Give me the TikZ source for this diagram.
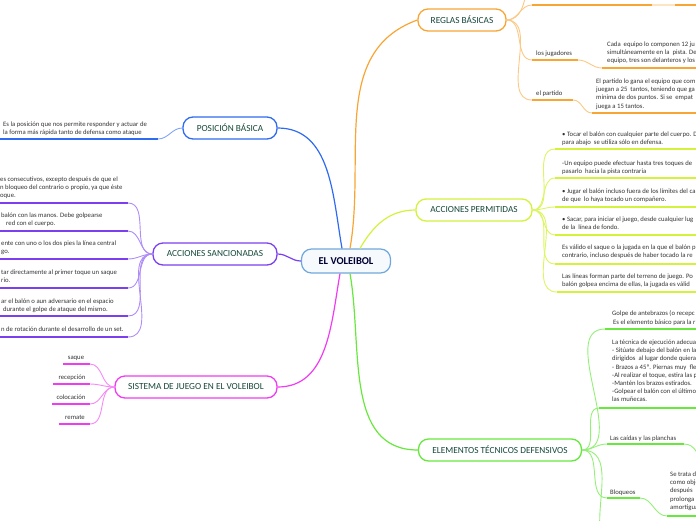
\documentclass[tikz,border=0pt]{standalone}
\usepackage{fontspec}
\setmainfont{Carlito}
\usetikzlibrary{positioning,calc}
\definecolor{rootc}{HTML}{6FA8DC}
\definecolor{posic}{HTML}{2F6BF0}
\definecolor{sanc}{HTML}{7B3FF0}
\definecolor{sist}{HTML}{F03CF0}
\definecolor{regl}{HTML}{F8A534}
\definecolor{perm}{HTML}{D2F23C}
\definecolor{tecn}{HTML}{66E83C}
\definecolor{titc}{HTML}{16483A}
\definecolor{txt}{HTML}{333333}

\begin{document}
\begin{tikzpicture}[x=1pt,y=-1pt,
  root/.style={draw=rootc,fill=rootc!6,rounded corners=10pt,line width=1.2pt,minimum width=89pt,minimum height=24pt,inner sep=0pt,font=\fontsize{10.5}{12}\selectfont\bfseries,text=black!80!blue},
  topic/.style={draw,fill=white,rounded corners=10pt,line width=1.3pt,minimum height=22pt,inner sep=0pt,font=\fontsize{9.3}{11}\selectfont,text=titc},
  note/.style={anchor=north west,inner sep=0pt,yshift=-1.2pt,align=left,text=txt,font=\fontsize{6.7}{8.2}\selectfont},
  word/.style={anchor=base,inner sep=0pt,text=txt,font=\fontsize{6.7}{8.2}\selectfont},
  ul/.style={line width=1.8pt},
  lk/.style={line width=0.9pt},
  mainlk/.style={line width=1.2pt}]
\useasboundingbox (0,0) rectangle (696,520);
\clip (0,0) rectangle (696,520);

% centre and main topics
\node[root] (ev) at (346,261) {EL VOLEIBOL};
\node[topic,draw=posic,minimum width=94pt] (pb) at (230,128) {POSICIÓN BÁSICA};
\node[topic,draw=sanc,minimum width=124pt] (as) at (215,254) {ACCIONES SANCIONADAS};
\node[topic,draw=sist,minimum width=162pt] (sj) at (196,387) {SISTEMA DE JUEGO EN EL VOLEIBOL};
\node[topic,draw=regl,minimum width=88pt] (rb) at (462,20) {REGLAS BÁSICAS};
\node[topic,draw=perm,minimum width=116pt] (ap) at (474,210) {ACCIONES PERMITIDAS};
\node[topic,draw=tecn,minimum width=163pt] (et) at (500,450) {ELEMENTOS TÉCNICOS DEFENSIVOS};

\draw[mainlk,posic] ([xshift=-4pt]ev.north) to[out=100,in=0] (pb.east);
\draw[mainlk,regl] ([xshift=4pt]ev.north) to[out=80,in=200] (rb.west);
\draw[mainlk,perm] ([xshift=14pt]ev.north) to[out=60,in=180] (ap.west);
\draw[mainlk,sanc] (ev.west) to[out=180,in=0] (as.east);
\draw[mainlk,sist] ([xshift=-6pt]ev.south) to[out=-100,in=0] (sj.east);
\draw[mainlk,tecn] ([xshift=4pt]ev.south) to[out=-80,in=180] (et.west);

% posicion basica
\node[note] (pbt) at (3,120.5) {Es la posición que nos permite responder y actuar de\\la forma más rápida tanto de defensa como ataque};
\coordinate (pba) at (-5,139); \coordinate (pbb) at (158,139);
\draw[ul,posic] (pba) -- (pbb);
\draw[lk,posic!60] (pbb) to[out=0,in=180] (pb.west);

% acciones sancionadas
\node[note] (s1) at (0,175.5) {es consecutivos, excepto después de que el\\n bloqueo del contrario o propio, ya que éste\\oque.};
\node[note] (s2) at (1,211.5) {balón con las manos. Debe golpearse\\\hspace{5pt}red con el cuerpo.};
\node[note] (s3) at (1,239.5) {ente con uno o los dos pies la línea central\\go.};
\node[note] (s4) at (1,268.5) {tar directamente al primer toque un saque\\rio.};
\node[note] (s5) at (1,297.5) {ar el balón o aun adversario en el espacio\\\hspace{2pt}durante el golpe de ataque del mismo.};
\node[note] (s6) at (1,325.5) {n de rotación durante el desarrollo de un set.};
\coordinate (s1a) at (-5,203); \coordinate (s1b) at (128,203);
\coordinate (s2a) at (-5,231); \coordinate (s2b) at (128,231);
\coordinate (s3a) at (-5,259); \coordinate (s3b) at (128,259);
\coordinate (s4a) at (-5,288); \coordinate (s4b) at (128,288);
\coordinate (s5a) at (-5,316); \coordinate (s5b) at (128,316);
\coordinate (s6a) at (-5,337); \coordinate (s6b) at (128,337);
\draw[ul,sanc] (s1a) -- (s1b);
\draw[ul,sanc] (s2a) -- (s2b);
\draw[ul,sanc] (s3a) -- (s3b);
\draw[ul,sanc] (s4a) -- (s4b);
\draw[ul,sanc] (s5a) -- (s5b);
\draw[ul,sanc] (s6a) -- (s6b);
\draw[lk,sanc!60] (s1b) to[out=0,in=180] (as.west);
\draw[lk,sanc!60] (s2b) to[out=0,in=180] (as.west);
\draw[lk,sanc!60] (s3b) to[out=0,in=180] (as.west);
\draw[lk,sanc!60] (s4b) to[out=0,in=180] (as.west);
\draw[lk,sanc!60] (s5b) to[out=0,in=180] (as.west);
\draw[lk,sanc!60] (s6b) to[out=0,in=180] (as.west);

% sistema de juego
\node[word] (sq) at (76,359) {saque};
\node[word] (rc) at (72,379) {recepción};
\node[word] (cl) at (71,399) {colocación};
\node[word] (rm) at (75,419) {remate};
\coordinate (sqa) at (63,364); \coordinate (sqb) at (90,364);
\coordinate (rca) at (53,384); \coordinate (rcb) at (90,384);
\coordinate (cla) at (52,404); \coordinate (clb) at (90,404);
\coordinate (rma) at (59,424); \coordinate (rmb) at (90,424);
\draw[ul,sist,line width=1.5pt] (sqa) -- (sqb);
\draw[ul,sist,line width=1.5pt] (rca) -- (rcb);
\draw[ul,sist,line width=1.5pt] (cla) -- (clb);
\draw[ul,sist,line width=1.5pt] (rma) -- (rmb);
\draw[lk,sist!60] (sqb) to[out=0,in=180] (sj.west);
\draw[lk,sist!60] (rcb) to[out=0,in=180] (sj.west);
\draw[lk,sist!60] (clb) to[out=0,in=180] (sj.west);
\draw[lk,sist!60] (rmb) to[out=0,in=180] (sj.west);

% reglas basicas
\coordinate (r0t) at (527,-12);
\draw[lk,regl!60] (rb.east) to[out=0,in=-100] (r0t);
\coordinate (r0a) at (532,5); \coordinate (r0b) at (700,5);
\coordinate (r0c) at (652,5); \coordinate (r0d) at (675,5);
\draw[ul,regl] (r0a) -- (r0b);
\draw[ul,regl!30] (r0c) -- (r0d);
\draw[lk,regl!60] (rb.east) to[out=0,in=180] (r0a);
\node[note] (lj) at (536,49.5) {los jugadores};
\coordinate (lja) at (532,60); \coordinate (ljb) at (578,60);
\draw[ul,regl] (lja) -- (ljb);
\draw[lk,regl!60] (rb.east) to[out=0,in=180] (lja);
\node[note] (ljt) at (607,40.5) {Cada\ \ equipo lo componen 12 ju\\simultáneamente en la\ \ pista. De\\equipo, tres son delanteros y los};
\coordinate (ljc) at (602,68); \coordinate (ljd) at (700,68);
\draw[ul,regl] (ljc) -- (ljd);
\draw[lk,regl!60] (ljb) to[out=0,in=180] (ljc);
\node[note] (ep) at (536,89.5) {el partido};
\coordinate (epa) at (532,100); \coordinate (epb) at (573,100);
\draw[ul,regl] (epa) -- (epb);
\draw[lk,regl!60] (rb.east) to[out=0,in=180] (epa);
\node[note] (ept) at (596,77.5) {El partido lo gana el equipo que com\\juegan a 25\ \ tantos, teniendo que ga\\mínima de dos puntos. Si se\ \ empat\\juega a 15 tantos.};
\coordinate (epc) at (592,113); \coordinate (epd) at (700,113);
\draw[ul,regl] (epc) -- (epd);
\draw[lk,regl!60] (epb) to[out=0,in=180] (epc);

% acciones permitidas
\node[note] (a1) at (562,130.5) {• Tocar el balón con cualquier parte del cuerpo. D\\para abajo\ \ se utiliza sólo en defensa.};
\node[note] (a2) at (562,159.5) {-Un equipo puede efectuar hasta tres toques de\\pasarlo\ \ hacia la pista contraria};
\node[note] (a3) at (562,187.5) {• Jugar el balón incluso fuera de los límites del ca\\de que\ \ lo haya tocado un compañero.};
\node[note] (a4) at (562,215.5) {• Sacar, para iniciar el juego, desde cualquier lug\\de la\ \ línea de fondo.};
\node[note] (a5) at (562,243.5) {Es válido el saque o la jugada en la que el balón p\\contrario, incluso después de haber tocado la re};
\node[note] (a6) at (562,272.5) {Las líneas forman parte del terreno de juego. Po\\balón golpea encima de ellas, la jugada es válid};
\coordinate (a1a) at (555,149); \coordinate (a1b) at (700,149);
\coordinate (a2a) at (555,178); \coordinate (a2b) at (700,178);
\coordinate (a3a) at (555,207); \coordinate (a3b) at (700,207);
\coordinate (a4a) at (555,235); \coordinate (a4b) at (700,235);
\coordinate (a5a) at (555,264); \coordinate (a5b) at (700,264);
\coordinate (a6a) at (557,292); \coordinate (a6b) at (700,292);
\draw[ul,perm] (a1a) -- (a1b);
\draw[ul,perm] (a2a) -- (a2b);
\draw[ul,perm] (a3a) -- (a3b);
\draw[ul,perm] (a4a) -- (a4b);
\draw[ul,perm] (a5a) -- (a5b);
\draw[ul,perm] (a6a) -- (a6b);
\draw[lk,perm!80] (ap.east) to[out=0,in=180] (a1a);
\draw[lk,perm!80] (ap.east) to[out=0,in=180] (a2a);
\draw[lk,perm!80] (ap.east) to[out=0,in=180] (a3a);
\draw[lk,perm!80] (ap.east) to[out=0,in=180] (a4a);
\draw[lk,perm!80] (ap.east) to[out=0,in=180] (a5a);
\draw[lk,perm!80] (ap.east) to[out=0,in=180] (a6a);

% elementos tecnicos defensivos
\node[note] (e1) at (612,309.5) {Golpe de antebrazos (o recepc\\\hspace{1pt}Es el elemento básico para la r};
\node[note] (e2) at (612,338.5) {La técnica de ejecución adecua\\- Sitúate debajo del balón en la\\dirigidos\ \ al lugar donde quiera\\- Brazos a 45º. Piernas muy\ \ fle\\-Al realizar el toque, estira las p\\-Mantén los brazos estirados.\\-Golpear el balón con el último\\las muñecas.};
\node[note] (e3) at (610,434.5) {Las caídas y las planchas};
\node[note] (e4) at (610,488.5) {Bloqueos};
\node[note] (e4t) at (670,470.5) {Se trata d\\como obje\\después\\prolonga\\amortigua};
\coordinate (e1a) at (605,329); \coordinate (e1b) at (700,329);
\coordinate (e2a) at (599,408); \coordinate (e2b) at (700,408);
\coordinate (e3a) at (607,444); \coordinate (e3b) at (684,444);
\coordinate (e3c) at (704,466);
\coordinate (e4a) at (607,498); \coordinate (e4b) at (640,498);
\coordinate (e4c) at (667,516); \coordinate (e4d) at (700,516);
\coordinate (e5) at (600,530);
\draw[ul,tecn] (e1a) -- (e1b);
\draw[ul,tecn] (e2a) -- (e2b);
\draw[ul,tecn] (e3a) -- (e3b);
\draw[ul,tecn] (e4a) -- (e4b);
\draw[ul,tecn] (e4c) -- (e4d);
\draw[lk,tecn!70] (et.east) to[out=0,in=180] (e1a);
\draw[lk,tecn!70] (et.east) to[out=0,in=180] (e2a);
\draw[lk,tecn!70] (et.east) to[out=0,in=180] (e3a);
\draw[lk,tecn!70] (et.east) to[out=0,in=180] (e4a);
\draw[lk,tecn!70] (et.east) to[out=0,in=95] (e5);
\draw[lk,tecn!70] (e3b) to[out=0,in=120] (e3c);
\draw[lk,tecn!70] (e4b) to[out=0,in=180] (e4c);
\end{tikzpicture}
\end{document}
